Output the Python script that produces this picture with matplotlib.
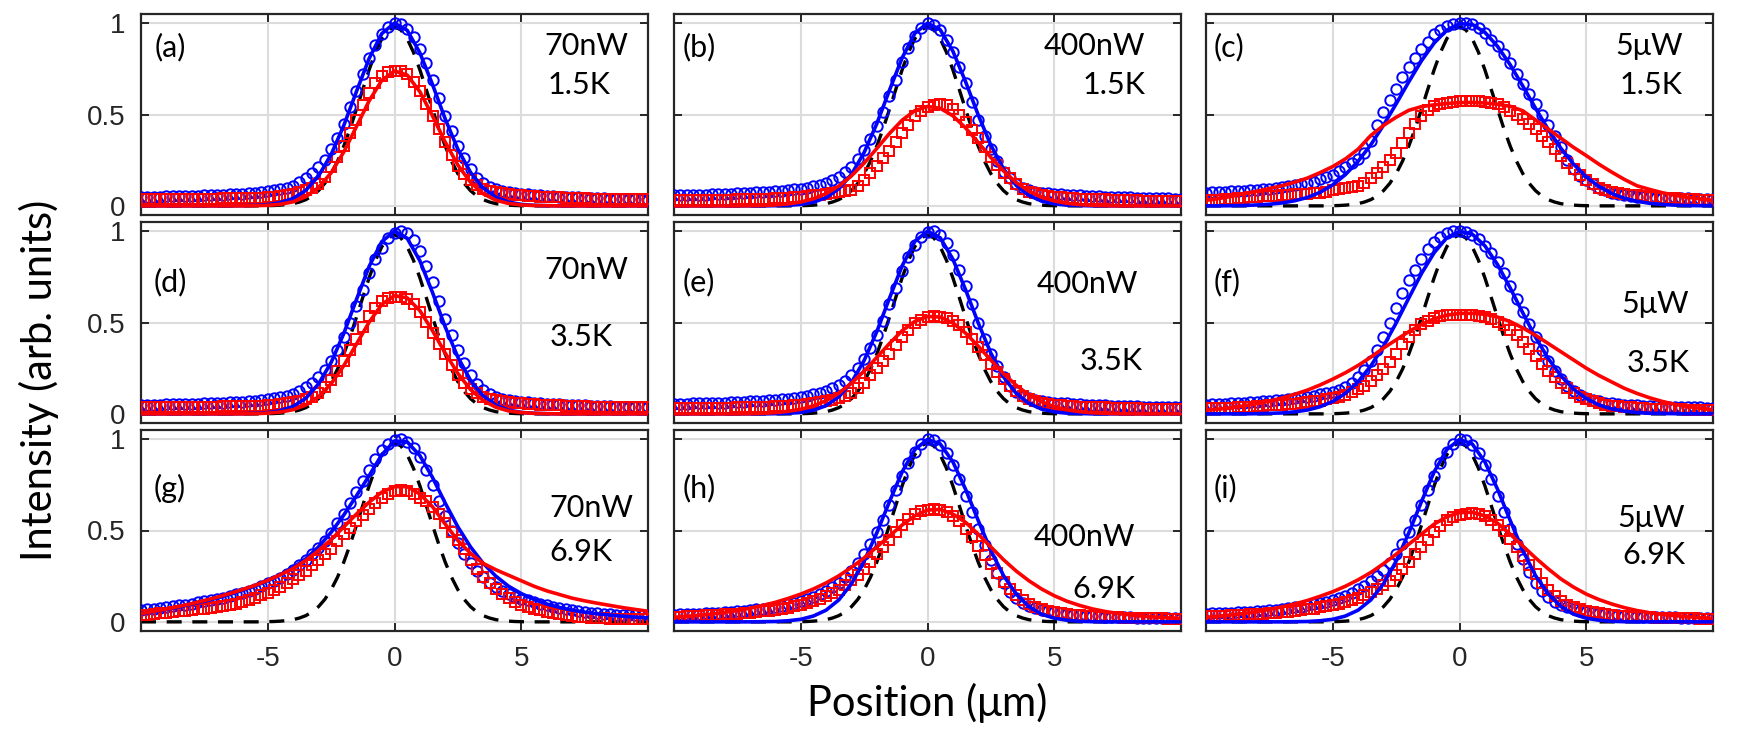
import numpy as np
import matplotlib
matplotlib.use("Agg")
import matplotlib.pyplot as plt

# sample positions (um): data points every 0.25, fit curves every 0.5
x_dat = np.linspace(-10, 10, 81)
x_fit = np.linspace(-10, 10, 41)

# laser spot profile (black dashed), same in every panel
laser = [0, 0, 0, 0, 0, 0, 0, 0,
         0, 0, 0, 0, 0, 0, 0, 0,
         0, 0, 0, 0, .001, .002, .004, .007,
         .012, .021, .034, .054, .083, .123, .176, .244,
         .327, .423, .529, .638, .745, .84, .915, .963,
         .98, .963, .915, .84, .745, .638, .529, .423,
         .327, .244, .176, .123, .083, .054, .034, .021,
         .012, .007, .004, .002, .001, 0, 0, 0,
         0, 0, 0, 0, 0, 0, 0, 0,
         0, 0, 0, 0, 0, 0, 0, 0,
         0]

# ---- (a) 70nW 1.5K
blue_a = [.050, .050, .050, .051, .052, .052, .053, .054,
          .055, .056, .058, .059, .060, .062, .063, .065,
          .067, .070, .072, .076, .080, .085, .090, .100,
          .110, .130, .150, .180, .210, .250, .310, .370,
          .450, .540, .630, .720, .810, .880, .940, .980,
          1.00, .995, .970, .925, .860, .780, .690, .590,
          .490, .410, .330, .260, .200, .155, .125, .105,
          .090, .082, .075, .070, .066, .063, .060, .057,
          .055, .053, .050, .049, .047, .046, .045, .043,
          .042, .041, .040, .038, .037, .036, .035, .034,
          .033]
red_a = [.035, .035, .035, .036, .036, .037, .037, .038,
         .038, .039, .039, .040, .040, .041, .041, .042,
         .042, .043, .044, .045, .046, .050, .055, .060,
         .067, .075, .085, .100, .120, .160, .210, .270,
         .330, .400, .470, .550, .620, .670, .710, .735,
         .740, .740, .720, .680, .630, .560, .490, .420,
         .350, .280, .220, .175, .140, .115, .094, .082,
         .075, .070, .066, .062, .058, .055, .053, .051,
         .049, .047, .046, .045, .043, .042, .041, .040,
         .039, .038, .038, .037, .036, .036, .035, .035,
         .035]
bfit_a = [0, 0, 0, 0, 0, 0, 0, 0, .001, .003,
          .007, .018, .041, .085, .163, .281, .44, .626, .807, .943,
          1.0, .961, .838, .664, .476, .31, .183, .098, .047, .021,
          .008, .003, .001, 0, 0, 0, 0, 0, 0, 0,
          0]
rfit_a = [0, 0, 0, 0, 0, 0, 0, 0, 0, .001,
          .003, .009, .022, .05, .10, .181, .295, .434, .575, .687,
          .738, .716, .625, .492, .349, .223, .129, .066, .031, .013,
          .005, .002, .001, 0, 0, 0, 0, 0, 0, 0,
          0]

# ---- (b) 400nW 1.5K
blue_b = [.058, .058, .059, .060, .061, .062, .063, .064,
          .066, .067, .069, .070, .072, .074, .076, .078,
          .080, .083, .086, .090, .094, .100, .106, .114,
          .125, .140, .160, .185, .215, .255, .305, .365,
          .435, .515, .600, .690, .785, .865, .930, .975,
          1.00, .990, .960, .910, .840, .760, .670, .570,
          .470, .385, .310, .245, .185, .150, .120, .100,
          .085, .078, .073, .070, .067, .064, .062, .060,
          .058, .056, .054, .052, .050, .049, .048, .047,
          .046, .045, .044, .043, .042, .041, .041, .040,
          .040]
red_b = [.030, .030, .030, .031, .031, .032, .032, .033,
         .033, .034, .035, .035, .036, .037, .038, .040,
         .041, .042, .044, .047, .050, .053, .057, .062,
         .067, .072, .078, .082, .088, .110, .140, .180,
         .220, .260, .300, .350, .400, .445, .490, .520,
         .540, .552, .556, .550, .530, .500, .460, .415,
         .370, .320, .270, .225, .180, .150, .120, .095,
         .076, .068, .062, .056, .050, .047, .044, .042,
         .040, .038, .037, .036, .035, .034, .033, .032,
         .031, .030, .029, .028, .027, .027, .026, .026,
         .025]
bfit_b = [0, 0, 0, 0, 0, 0, 0, 0, .001, .003,
          .008, .02, .045, .093, .172, .292, .45, .633, .81, .944,
          1.0, .964, .847, .68, .498, .332, .202, .112, .057, .026,
          .011, .004, .002, 0, 0, 0, 0, 0, 0, 0,
          0]
rfit_b = [0, 0, 0, 0, 0, 0, .001, .002, .005, .011,
          .021, .039, .067, .108, .164, .234, .314, .396, .469, .521,
          .544, .534, .493, .427, .347, .265, .191, .128, .081, .048,
          .027, .014, .007, .003, .001, 0, 0, 0, 0, 0,
          0]

# ---- (c) 5uW 1.5K
blue_c = [.072, .074, .076, .078, .080, .082, .084, .086,
          .088, .091, .094, .098, .102, .108, .114, .120,
          .125, .133, .145, .158, .170, .190, .210, .232,
          .255, .290, .355, .440, .515, .580, .640, .705,
          .760, .810, .860, .895, .940, .965, .985, .995,
          1.00, 1.00, .995, .975, .945, .910, .875, .830,
          .780, .720, .665, .610, .560, .500, .440, .380,
          .320, .250, .200, .165, .140, .120, .100, .085,
          .072, .063, .058, .054, .050, .048, .046, .045,
          .044, .043, .042, .041, .041, .040, .040, .040,
          .040]
red_c = [.030, .032, .034, .036, .038, .041, .044, .047,
         .050, .052, .054, .056, .058, .060, .063, .065,
         .067, .070, .073, .078, .085, .090, .096, .103,
         .110, .125, .150, .180, .210, .250, .290, .345,
         .400, .450, .490, .525, .547, .558, .565, .570,
         .574, .575, .574, .573, .570, .565, .556, .540,
         .520, .500, .475, .450, .420, .385, .350, .312,
         .275, .237, .200, .170, .140, .120, .100, .088,
         .076, .070, .065, .061, .058, .054, .051, .048,
         .045, .043, .041, .039, .037, .035, .033, .031,
         .030]
bfit_c = [0, 0, .001, .002, .005, .009, .016, .028, .046, .074,
          .115, .171, .244, .334, .441, .558, .679, .794, .891, .962,
          .997, .993, .95, .873, .772, .655, .534, .418, .315, .228,
          .158, .106, .068, .042, .025, .014, .008, .004, .002, .001,
          0]
rfit_c = [.030, .040, .052, .067, .080, .095, .110, .130, .152, .182,
          .215, .257, .310, .385, .440, .485, .523, .543, .553, .560,
          .565, .566, .563, .556, .545, .520, .470, .420, .370, .320,
          .275, .228, .185, .145, .110, .090, .072, .058, .047, .038,
          .030]

# ---- (d) 70nW 3.5K
blue_d = [.050, .050, .050, .051, .052, .052, .053, .054,
          .055, .056, .058, .059, .060, .062, .063, .065,
          .067, .070, .072, .076, .080, .085, .090, .100,
          .110, .125, .145, .170, .200, .240, .290, .350,
          .420, .500, .590, .680, .770, .850, .910, .960,
          .990, 1.00, .990, .950, .890, .810, .720, .620,
          .520, .430, .350, .280, .215, .165, .130, .108,
          .092, .083, .076, .071, .067, .064, .061, .058,
          .056, .054, .052, .050, .048, .047, .046, .044,
          .043, .042, .041, .040, .039, .038, .037, .036,
          .035]
red_d = [.035, .035, .035, .036, .036, .037, .037, .038,
         .038, .039, .039, .040, .040, .041, .041, .042,
         .042, .043, .044, .045, .046, .050, .055, .060,
         .066, .073, .082, .095, .112, .145, .185, .235,
         .290, .350, .410, .475, .535, .580, .615, .635,
         .640, .640, .630, .600, .560, .505, .445, .385,
         .325, .265, .210, .170, .135, .112, .094, .082,
         .075, .070, .066, .062, .058, .055, .053, .051,
         .049, .047, .046, .045, .043, .042, .041, .040,
         .039, .038, .038, .037, .036, .036, .035, .035,
         .035]
bfit_d = [0, 0, 0, 0, 0, 0, 0, 0, .001, .003,
          .007, .018, .041, .085, .163, .281, .44, .626, .807, .943,
          1.0, .961, .838, .664, .476, .31, .183, .098, .047, .021,
          .008, .003, .001, 0, 0, 0, 0, 0, 0, 0,
          0]
rfit_d = [0, 0, 0, 0, 0, 0, 0, 0, 0, .001,
          .004, .01, .023, .048, .094, .165, .264, .382, .502, .599,
          .647, .635, .565, .455, .333, .221, .133, .073, .036, .016,
          .007, .003, .001, 0, 0, 0, 0, 0, 0, 0,
          0]

# ---- (e) 400nW 3.5K
blue_e = [.055, .055, .056, .057, .058, .059, .060, .061,
          .062, .064, .065, .067, .069, .071, .073, .075,
          .078, .081, .084, .088, .093, .099, .106, .115,
          .126, .140, .158, .180, .210, .250, .300, .360,
          .430, .510, .600, .690, .780, .860, .925, .970,
          .995, 1.00, .980, .935, .870, .790, .700, .600,
          .500, .410, .330, .260, .200, .155, .122, .100,
          .085, .076, .070, .066, .062, .059, .057, .055,
          .053, .051, .049, .048, .046, .045, .044, .043,
          .042, .041, .040, .039, .038, .037, .037, .036,
          .035]
red_e = [.030, .030, .030, .031, .031, .032, .032, .033,
         .033, .034, .035, .035, .036, .037, .038, .040,
         .041, .042, .044, .047, .050, .054, .058, .064,
         .070, .078, .088, .100, .115, .140, .170, .210,
         .250, .290, .330, .375, .420, .460, .495, .515,
         .528, .533, .532, .525, .510, .485, .450, .410,
         .365, .320, .275, .230, .190, .155, .125, .100,
         .082, .070, .062, .056, .050, .047, .044, .042,
         .040, .038, .037, .036, .035, .034, .033, .032,
         .031, .030, .029, .028, .027, .027, .026, .026,
         .025]
bfit_e = [0, 0, 0, 0, 0, 0, 0, 0, .001, .003,
          .008, .02, .045, .093, .172, .292, .45, .633, .81, .944,
          1.0, .964, .847, .68, .498, .332, .202, .112, .057, .026,
          .011, .004, .002, 0, 0, 0, 0, 0, 0, 0,
          0]
rfit_e = [0, 0, 0, 0, 0, 0, .001, .003, .007, .014,
          .025, .044, .072, .113, .168, .234, .309, .385, .455, .506,
          .533, .530, .497, .442, .371, .294, .22, .156, .104, .066,
          .039, .022, .012, .006, .003, .001, 0, 0, 0, 0,
          0]

# ---- (f) 5uW 3.5K
blue_f = [.050, .052, .054, .056, .058, .060, .062, .064,
          .066, .069, .072, .075, .078, .082, .086, .090,
          .095, .100, .106, .113, .122, .133, .148, .170,
          .200, .240, .290, .350, .420, .500, .580, .660,
          .730, .790, .850, .900, .940, .970, .990, 1.00,
          1.00, .995, .980, .955, .920, .880, .830, .770,
          .700, .630, .560, .490, .420, .350, .290, .235,
          .190, .155, .125, .103, .087, .076, .068, .062,
          .057, .053, .050, .048, .046, .044, .043, .042,
          .041, .040, .039, .038, .037, .036, .035, .034,
          .033]
red_f = [.030, .031, .032, .033, .034, .036, .038, .040,
         .042, .044, .046, .048, .050, .053, .056, .060,
         .064, .068, .073, .079, .086, .095, .105, .120,
         .135, .155, .180, .210, .245, .285, .330, .380,
         .420, .460, .490, .510, .525, .535, .540, .542,
         .543, .543, .541, .537, .530, .520, .505, .485,
         .460, .430, .395, .355, .315, .275, .235, .200,
         .170, .140, .115, .095, .080, .068, .058, .050,
         .045, .041, .038, .035, .033, .031, .029, .028,
         .027, .026, .025, .024, .023, .022, .022, .021,
         .020]
bfit_f = [0, 0, 0, 0, .001, .003, .005, .011, .021, .039,
          .068, .112, .176, .262, .37, .497, .634, .768, .882, .964,
          .999, .984, .92, .817, .689, .552, .419, .303, .208, .135,
          .084, .049, .027, .015, .007, .003, .002, .001, 0, 0,
          0]
rfit_f = [.020, .026, .034, .044, .056, .070, .087, .107, .130, .158,
          .190, .225, .265, .310, .360, .405, .450, .490, .520, .540,
          .550, .550, .545, .530, .505, .470, .430, .385, .340, .295,
          .250, .210, .175, .140, .112, .088, .068, .052, .040, .030,
          .022]

# ---- (g) 70nW 6.9K
blue_g = [.064, .068, .072, .076, .080, .085, .090, .095,
          .100, .106, .112, .118, .125, .133, .141, .150,
          .160, .170, .182, .195, .210, .225, .242, .262,
          .285, .310, .340, .370, .405, .440, .485, .540,
          .590, .650, .710, .770, .830, .890, .940, .975,
          .995, 1.00, .985, .950, .900, .830, .750, .660,
          .580, .500, .430, .370, .320, .280, .245, .215,
          .190, .170, .152, .138, .127, .117, .108, .100,
          .090, .084, .078, .072, .066, .061, .056, .051,
          .046, .044, .042, .040, .039, .038, .037, .036,
          .035]
red_g = [.036, .040, .043, .047, .050, .054, .057, .061,
         .064, .068, .072, .076, .080, .085, .090, .100,
         .108, .120, .133, .146, .160, .175, .192, .212,
         .232, .255, .280, .310, .340, .370, .400, .440,
         .480, .515, .550, .585, .620, .650, .680, .700,
         .715, .720, .715, .700, .680, .660, .630, .590,
         .540, .490, .450, .400, .340, .290, .245, .210,
         .180, .155, .130, .110, .095, .083, .072, .064,
         .056, .050, .044, .038, .033, .029, .025, .022,
         .020, .019, .018, .017, .016, .016, .015, .015,
         .015]
bfit_g = [.045, .056, .068, .082, .097, .113, .130, .150, .172, .197,
          .225, .258, .297, .345, .410, .490, .585, .690, .800, .915,
          .990, .985, .910, .790, .650, .520, .410, .320, .250, .195,
          .155, .123, .098, .079, .064, .053, .044, .037, .031, .026,
          .022]
rfit_g = [.045, .058, .070, .085, .100, .117, .135, .155, .177, .200,
          .227, .258, .292, .336, .390, .450, .520, .590, .655, .710,
          .740, .740, .700, .630, .535, .445, .375, .320, .285, .255,
          .225, .195, .170, .150, .130, .115, .102, .090, .078, .068,
          .058]

# ---- (h) 400nW 6.9K
blue_h = [.040, .041, .042, .043, .045, .047, .049, .051,
          .053, .056, .059, .062, .065, .069, .073, .078,
          .083, .089, .096, .104, .113, .124, .137, .152,
          .170, .190, .215, .245, .280, .320, .370, .425,
          .490, .560, .640, .720, .800, .870, .930, .975,
          1.00, .995, .970, .925, .860, .780, .690, .600,
          .510, .420, .340, .270, .210, .165, .130, .105,
          .088, .075, .066, .058, .052, .047, .043, .040,
          .037, .034, .032, .030, .028, .027, .026, .025,
          .024, .023, .022, .021, .021, .020, .020, .019,
          .019]
red_h = [.028, .029, .030, .031, .033, .035, .037, .039,
         .041, .043, .045, .048, .051, .054, .058, .062,
         .067, .072, .078, .085, .093, .102, .113, .126,
         .140, .157, .177, .200, .227, .258, .292, .330,
         .370, .410, .450, .490, .530, .565, .590, .605,
         .612, .615, .612, .600, .580, .550, .510, .465,
         .415, .365, .315, .265, .220, .180, .148, .120,
         .098, .082, .070, .060, .053, .047, .042, .038,
         .035, .032, .030, .028, .026, .025, .024, .023,
         .022, .021, .020, .020, .019, .019, .018, .018,
         .018]
bfit_h = [0, 0, 0, 0, 0, 0, 0, .001, .002, .006,
          .014, .032, .064, .12, .208, .332, .487, .658, .821, .943,
          .998, .974, .876, .726, .555, .39, .253, .152, .084, .042,
          .02, .009, .003, .001, 0, 0, 0, 0, 0, 0,
          0]
rfit_h = [.025, .030, .036, .043, .052, .062, .075, .090, .107, .128,
          .152, .180, .213, .252, .298, .350, .410, .470, .530, .580,
          .612, .615, .590, .545, .480, .410, .340, .278, .225, .180,
          .143, .113, .090, .071, .057, .046, .038, .031, .026, .022,
          .019]

# ---- (i) 5uW 6.9K
blue_i = [.045, .046, .047, .048, .050, .052, .054, .056,
          .058, .061, .064, .067, .071, .075, .079, .084,
          .090, .096, .103, .111, .120, .131, .144, .160,
          .178, .198, .222, .250, .283, .322, .370, .425,
          .490, .560, .640, .720, .800, .870, .930, .975,
          1.00, .995, .970, .925, .860, .780, .690, .600,
          .510, .425, .345, .275, .215, .170, .135, .110,
          .092, .079, .069, .061, .055, .050, .046, .042,
          .039, .036, .034, .032, .030, .029, .028, .027,
          .026, .025, .024, .023, .022, .022, .021, .021,
          .020]
red_i = [.030, .031, .032, .033, .035, .037, .039, .041,
         .043, .045, .047, .050, .053, .056, .060, .064,
         .068, .073, .079, .085, .092, .100, .110, .120,
         .132, .146, .162, .180, .200, .225, .255, .290,
         .330, .370, .410, .450, .490, .525, .555, .575,
         .585, .592, .594, .590, .580, .560, .530, .495,
         .455, .410, .360, .310, .260, .215, .175, .142,
         .115, .095, .080, .068, .059, .052, .046, .041,
         .037, .034, .031, .029, .027, .025, .024, .023,
         .022, .021, .020, .020, .019, .019, .018, .018,
         .018]
bfit_i = [0, 0, 0, 0, 0, 0, 0, .001, .002, .006,
          .014, .032, .064, .12, .208, .332, .487, .658, .821, .943,
          .998, .974, .876, .726, .555, .39, .253, .152, .084, .042,
          .02, .009, .003, .001, 0, 0, 0, 0, 0, 0,
          0]
rfit_i = [.025, .031, .038, .046, .056, .068, .082, .098, .117, .140,
          .165, .195, .230, .270, .318, .370, .425, .480, .535, .575,
          .598, .600, .580, .540, .480, .415, .350, .290, .235, .190,
          .152, .122, .098, .078, .062, .050, .041, .034, .028, .023,
          .019]

labels = ["(a)", "(b)", "(c)", "(d)", "(e)", "(f)", "(g)", "(h)", "(i)"]
powers = ["70nW", "400nW", "5μW"] * 3
temps = ["1.5K"] * 3 + ["3.5K"] * 3 + ["6.9K"] * 3
blues = [blue_a, blue_b, blue_c, blue_d, blue_e, blue_f, blue_g, blue_h, blue_i]
reds = [red_a, red_b, red_c, red_d, red_e, red_f, red_g, red_h, red_i]
bfits = [bfit_a, bfit_b, bfit_c, bfit_d, bfit_e, bfit_f, bfit_g, bfit_h, bfit_i]
rfits = [rfit_a, rfit_b, rfit_c, rfit_d, rfit_e, rfit_f, rfit_g, rfit_h, rfit_i]

# text placement in axes fraction: (label x, y), (power x, y), (temp x, y)
txt_pos = [
    ((0.026, 0.835), (0.962, 0.84), (0.927, 0.645)),
    ((0.017, 0.835), (0.93, 0.84), (0.93, 0.645)),
    ((0.015, 0.835), (0.94, 0.84), (0.94, 0.645)),
    ((0.024, 0.70), (0.962, 0.76), (0.93, 0.43)),
    ((0.017, 0.70), (0.915, 0.69), (0.925, 0.31)),
    ((0.015, 0.70), (0.952, 0.59), (0.955, 0.30)),
    ((0.024, 0.71), (0.972, 0.61), (0.93, 0.395)),
    ((0.017, 0.71), (0.91, 0.47), (0.91, 0.21)),
    ((0.015, 0.71), (0.945, 0.56), (0.945, 0.38)),
]

txt_font = ["Lato", "Open Sans", "DejaVu Sans"]
num_font = ["Liberation Sans", "DejaVu Sans"]
dark = "#262626"

W, H = 1759, 746
fig = plt.figure(figsize=(W / 100, H / 100), dpi=100)
lefts = [141, 674, 1206]
tops = [14, 222, 430]
aw, ah = 507, 201

for k in range(9):
    r, c = divmod(k, 3)
    ax = fig.add_axes([lefts[c] / W, 1 - (tops[r] + ah) / H, aw / W, ah / H])
    ax.plot(x_dat, laser, color="black", lw=2.4, ls=(0, (4.5, 3.2)), zorder=2)
    ax.plot(x_dat, blues[k], "o", ms=7.5, mfc="none", mec="#0000ff", mew=1.4, zorder=3)
    ax.plot(x_dat, reds[k], "s", ms=7, mfc="none", mec="#ff0000", mew=1.4, zorder=4)
    ax.plot(x_fit, bfits[k], color="#0000ff", lw=2.6, zorder=5)
    ax.plot(x_fit, rfits[k], color="#ff0000", lw=2.6, zorder=6)

    ax.set_xlim(-10, 10)
    ax.set_ylim(-0.05, 1.05)
    ax.set_xticks([-5, 0, 5])
    ax.set_yticks([0, 0.5, 1])
    ax.grid(True, color="#dcdcdc", lw=1.5)
    ax.set_axisbelow(True)
    for sp in ax.spines.values():
        sp.set_color(dark)
        sp.set_linewidth(1.6)
    ax.tick_params(direction="in", length=6, width=1.4, top=True, right=True,
                   colors=dark, labelsize=20, pad=11)
    if r == 2:
        ax.set_xticklabels(["-5", "0", "5"], family=num_font)
    else:
        ax.set_xticklabels([])
    if c == 0:
        ax.set_yticklabels(["0", "0.5", "1"], family=num_font)
    else:
        ax.set_yticklabels([])

    (lx, ly), (px, py), (tx, ty) = txt_pos[k]
    ax.text(lx, ly, labels[k], transform=ax.transAxes, fontsize=22,
            family=txt_font, ha="left", va="center")
    ax.text(px, py, powers[k], transform=ax.transAxes, fontsize=22,
            family=txt_font, ha="right", va="center")
    ax.text(tx, ty, temps[k], transform=ax.transAxes, fontsize=22,
            family=txt_font, ha="right", va="center")

fig.text(0.527, 0.058, "Position (μm)", fontsize=30, family=txt_font,
         ha="center", va="center")
fig.text(0.022, 0.49, "Intensity (arb. units)", fontsize=30, family=txt_font,
         ha="center", va="center", rotation=90)

fig.savefig("out.png", dpi=100)
